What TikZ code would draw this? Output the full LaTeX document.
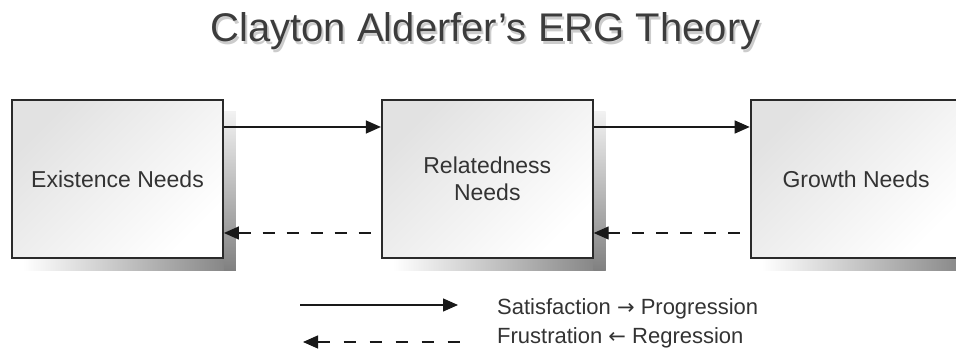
\documentclass[tikz,border=0pt]{standalone}
\usepackage{fontspec}
\setmainfont{Liberation Sans}
\newfontfamily\arrowfont{DejaVu Sans}
\usetikzlibrary{positioning, arrows.meta, backgrounds}
\definecolor{InkA}{HTML}{333333}
\definecolor{InkB}{HTML}{3C3C3C}
\definecolor{EdgeA}{HTML}{2A2A2A}
\definecolor{FillA}{HTML}{E2E2E2}
\definecolor{ShadeA}{HTML}{808080}
\newcommand{\keyarrow}[1]{{\arrowfont\fontsize{21}{24}\selectfont #1}}
\tikzset{
  need/.style={draw=EdgeA, line width=1.8pt, minimum width=211pt, minimum height=158pt, align=center, text=InkA,
    font=\fontsize{23}{27}\selectfont, top color=FillA, bottom color=white, shading angle=45},
  ttl/.style={anchor=base, inner sep=0pt, font=\fontsize{40}{44}\selectfont, text=InkB},
  key/.style={anchor=base west, inner sep=0pt, font=\fontsize{22}{26}\selectfont, text=InkA},
  sat/.style={-{Triangle[length=15pt, width=13pt]}, line width=1.3pt, draw=black!90},
  frus/.style={{Triangle[length=15pt, width=13pt]}-, line width=1.3pt, draw=black!90, dash pattern=on 12pt off 12pt}
}
\begin{document}
\begin{tikzpicture}[x=1pt, y=1pt, node distance=157pt]
  \clip (0,0) rectangle (956,352);
  % the three needs
  \node[need] (exist) at (117.5,173) {Existence Needs};
  \node[need, right=of exist] (relate) {Relatedness\\Needs};
  \node[need, right=156pt of relate] (growth) {Growth Needs};
  \begin{scope}[on background layer]
    \foreach \n in {exist, relate, growth} {
      \shade[left color=white, right color=ShadeA] ([shift={(12pt,-12pt)}]\n.south west) rectangle ([xshift=12pt]\n.south east);
      \shade[top color=white!95!black, bottom color=ShadeA] ([yshift=-12pt]\n.north east) rectangle ([shift={(12pt,-12pt)}]\n.south east);
    }
  \end{scope}

  % heading
  \node[ttl, text=gray!40] (ttlshade) at (487.5,307.5) {Clayton Alderfer’s ERG Theory};
  \node[ttl] (title) at (485.5,310) {Clayton Alderfer’s ERG Theory};

  \draw[sat] ([yshift=52pt]exist.east) -- ([yshift=52pt]relate.west);
  \draw[sat] ([yshift=52pt]relate.east) -- ([yshift=52pt]growth.west);
  \draw[frus] ([yshift=-54pt]exist.east) -- ([yshift=-54pt]relate.west);
  \draw[frus] ([yshift=-54pt]relate.east) -- ([yshift=-54pt]growth.west);

  % legend
  \node[key] (satkey) at (497,37) {Satisfaction \keyarrow{→} Progression};
  \node[key] (fruskey) at (497,8) {Frustration \keyarrow{←} Regression};
  \coordinate (sat0) at (300,47);
  \coordinate (sat1) at (458,47);
  \coordinate (frus0) at (303,10);
  \coordinate (frus1) at (462,10);
  \draw[sat] (sat0) -- (sat1);
  \draw[frus, dash pattern=on 12pt off 14pt] (frus0) -- (frus1);
\end{tikzpicture}
\end{document}
